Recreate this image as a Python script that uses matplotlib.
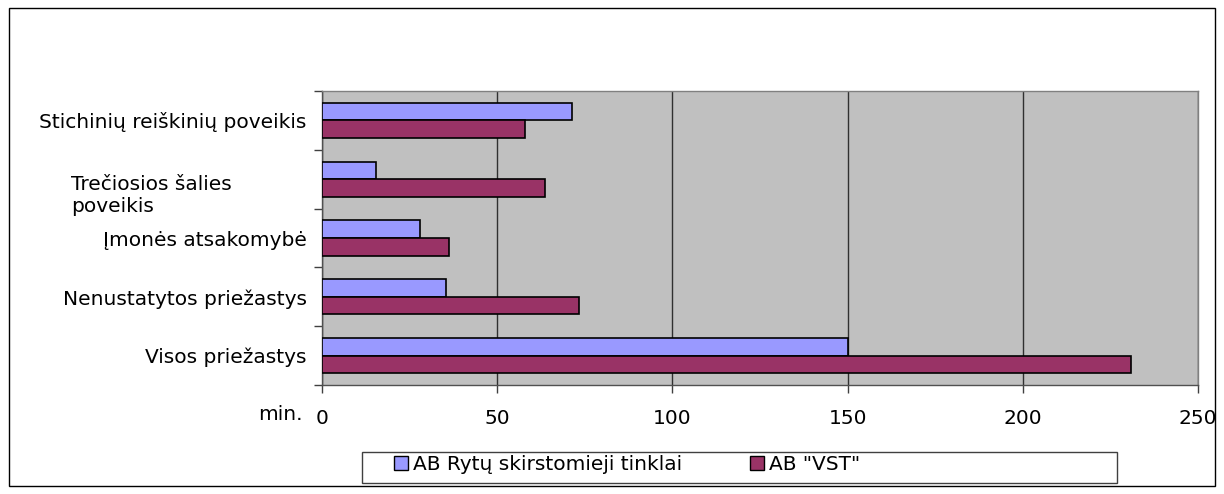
import matplotlib
matplotlib.use("Agg")
import matplotlib.pyplot as plt
import numpy as np
from matplotlib.patches import Rectangle, Patch
from matplotlib.transforms import ScaledTranslation

plt.rcParams['font.family'] = ['DejaVu Sans']

categories = ["Stichinių reiškinių poveikis", "Trečiosios šalies\npoveikis",
              "Įmonės atsakomybė", "Nenustatytos priežastys", "Visos priežastys"]
rst_values = [71.3, 15.3, 28.0, 35.3, 150.0]
vst_values = [57.8, 63.5, 36.2, 73.3, 231.0]
series_names = ["AB Rytų skirstomieji tinklai", 'AB "VST"']
x_ticks = [0, 50, 100, 150, 200, 250]

W, H = 1224, 494
fig = plt.figure(figsize=(W / 100, H / 100), dpi=100)
fs = 14.5
blue = '#9999FF'
plum = '#993366'

# outer chart border
fig.patches.append(Rectangle((9 / W, 1 - 486 / H), 1206 / W, 478 / H, transform=fig.transFigure,
                             fill=False, edgecolor='black', linewidth=1))

ax = fig.add_axes([322 / W, 1 - 385 / H, 876 / W, 294 / H])
ax.set_facecolor('#C0C0C0')

y = np.arange(len(categories))
bh = 0.3
ax.barh(y - bh / 2, rst_values, height=bh, color=blue, edgecolor='black', linewidth=1.2, zorder=3)
ax.barh(y + bh / 2, vst_values, height=bh, color=plum, edgecolor='black', linewidth=1.2, zorder=3)

ax.set_xlim(0, 250)
ax.set_ylim(len(categories) - 0.5, -0.5)
ax.set_xticks(x_ticks)
ax.set_xticklabels([str(v) for v in x_ticks], fontsize=fs)
ax.tick_params(axis='x', direction='out', length=6, width=1, color='#404040', pad=11)
ax.xaxis.grid(True, color='#303030', linewidth=1, zorder=1)

ax.set_yticks(y)
ax.set_yticklabels(categories, fontsize=fs)
ax.tick_params(axis='y', which='major', length=0, pad=11)
ax.set_yticks(np.arange(len(categories) + 1) - 0.5, minor=True)
ax.tick_params(axis='y', which='minor', direction='out', length=6, width=1, color='#404040')

# wrapped label: left aligned, further left and a bit lower
lbl = ax.get_yticklabels()[1]
lbl.set_horizontalalignment('left')
lbl.set_multialignment('left')
lbl.set_transform(lbl.get_transform() + ScaledTranslation(-2.36, -0.125, fig.dpi_scale_trans))

for s in ['top', 'right']:
    ax.spines[s].set_color('#808080')
for s in ['left', 'bottom']:
    ax.spines[s].set_color('#505050')
for s in ax.spines.values():
    s.set_linewidth(1)

fig.text(303 / W, 1 - 414 / H, "min.", fontsize=fs, ha='right', va='center')

# legend frame
fig.patches.append(Rectangle((362 / W, 1 - 482.5 / H), 755 / W, 30.5 / H, transform=fig.transFigure,
                             fill=False, edgecolor='#404040', linewidth=1))
for name, col, x0 in [(series_names[0], blue, 394), (series_names[1], plum, 750)]:
    fig.legend(handles=[Patch(facecolor=col, edgecolor='black', label=name)],
               loc='center left', bbox_to_anchor=(x0 / W, 1 - 465 / H),
               frameon=False, fontsize=fs, handlelength=0.7, handleheight=0.7,
               handletextpad=0.25, borderaxespad=0, borderpad=0)

fig.savefig("out.png", dpi=100)
